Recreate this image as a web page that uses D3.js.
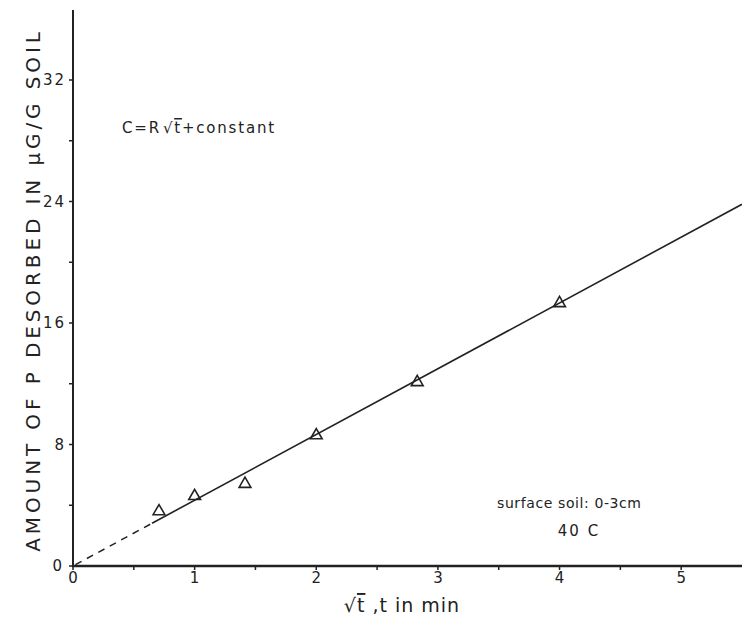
<html>
<script src="https://d3js.org/d3.v7.min.js"></script>
<style>
body { margin: 0; background: #fff; }
text { font-family: "DejaVu Sans", sans-serif; fill: #222; }
</style>
<body>
<svg width="742" height="623"></svg>
<script>
// values
var sqrtT = [0.707, 1.0, 1.414, 2.0, 2.83, 4.0];
var desorbed = [3.6, 4.6, 5.4, 8.6, 12.1, 17.3];
var yTicks = [0, 8, 16, 24, 32];
var yMinor = [4, 12, 20, 28];
var xTicks = [0, 1, 2, 3, 4, 5];
var xMinor = [0.5, 1.5, 2.5, 3.5, 4.5];
var fitSlope = 4.33, fitIntercept = 0, dashEnd = 0.65;

var svg = d3.select("svg");
var x = d3.scaleLinear().domain([0, 5.5]).range([73, 742]);
var y = d3.scaleLinear().domain([0, 32]).range([566, 80]);
var ink = "#222";

// y axis
svg.append("line")
   .attr("x1", x(0)).attr("x2", x(0))
   .attr("y1", 10).attr("y2", y(0))
   .attr("stroke", ink).attr("stroke-width", 2);
svg.selectAll(".ytick").data(yTicks.concat(yMinor)).enter().append("line")
   .attr("x1", x(0) - 4).attr("x2", x(0))
   .attr("y1", d => y(d)).attr("y2", d => y(d))
   .attr("stroke", ink).attr("stroke-width", 1.5);
svg.selectAll(".ylab").data(yTicks).enter().append("text")
   .attr("x", d => d == 0 ? 64 : 66).attr("y", d => y(d) + 5)
   .attr("text-anchor", "end")
   .attr("font-size", 15).attr("letter-spacing", 2)
   .text(d => d);

// x axis
svg.append("line")
   .attr("x1", x(0) - 1).attr("x2", 742)
   .attr("y1", y(0)).attr("y2", y(0))
   .attr("stroke", ink).attr("stroke-width", 2.5);
svg.selectAll(".xtick").data(xTicks.concat(xMinor)).enter().append("line")
   .attr("x1", d => x(d)).attr("x2", d => x(d))
   .attr("y1", y(0)).attr("y2", y(0) + 4)
   .attr("stroke", ink).attr("stroke-width", 1.5);
svg.selectAll(".xlab").data(xTicks).enter().append("text")
   .attr("x", d => x(d)).attr("y", y(0) + 17)
   .attr("text-anchor", "middle")
   .attr("font-size", 15)
   .text(d => d);

// fitted line, dashed near the origin
var fit = d => fitIntercept + fitSlope * d;
svg.append("line")
   .attr("x1", x(0.02)).attr("y1", y(fit(0.02)))
   .attr("x2", x(dashEnd)).attr("y2", y(fit(dashEnd)))
   .attr("stroke", ink).attr("stroke-width", 1.5)
   .attr("stroke-dasharray", "7,6");
svg.append("line")
   .attr("x1", x(dashEnd)).attr("y1", y(fit(dashEnd)))
   .attr("x2", x(5.5)).attr("y2", y(fit(5.5)))
   .attr("stroke", ink).attr("stroke-width", 1.6);

// data points
var tri = d3.symbol().type(d3.symbolTriangle).size(60);
svg.selectAll(".pt").data(sqrtT).enter().append("path")
   .attr("d", tri)
   .attr("transform", (d, i) => "translate(" + x(d) + "," + y(desorbed[i]) + ")")
   .attr("fill", "none").attr("stroke", ink).attr("stroke-width", 1.6);

// equation
var eq = svg.append("text").attr("x", 122).attr("y", 133)
   .attr("font-size", 15).attr("letter-spacing", 1.8);
eq.append("tspan").text("C=R");
eq.append("tspan").text("√").attr("dx", 2);
eq.append("tspan").text("t").attr("text-decoration", "overline");
eq.append("tspan").text("+constant");

// annotation
svg.append("text").attr("x", 497).attr("y", 508)
   .attr("font-size", 14).attr("letter-spacing", 0.6)
   .text("surface soil: 0-3cm");
svg.append("text").attr("x", 579).attr("y", 536)
   .attr("text-anchor", "middle")
   .attr("font-size", 15).attr("letter-spacing", 2)
   .text("40 C");

// axis titles
svg.append("text")
   .attr("transform", "translate(40,290) rotate(-90)")
   .attr("text-anchor", "middle")
   .attr("font-size", 20).attr("letter-spacing", 3.9)
   .text("AMOUNT OF P DESORBED IN μG/G SOIL");

var xt = svg.append("text").attr("x", 402).attr("y", 612)
   .attr("text-anchor", "middle").attr("font-size", 19).attr("letter-spacing", 1);
xt.append("tspan").text("√");
xt.append("tspan").text("t").attr("text-decoration", "overline");
xt.append("tspan").text(" ,t in min");
</script>
</body>
</html>
